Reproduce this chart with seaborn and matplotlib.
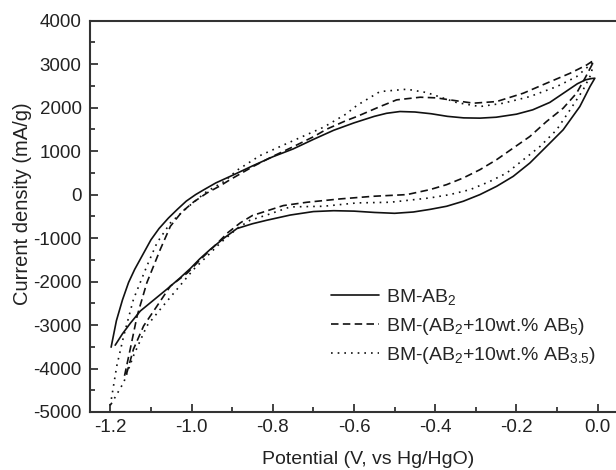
import pandas as pd
import matplotlib
matplotlib.use("Agg")
import matplotlib.pyplot as plt
import seaborn as sns

# BM-AB2 (solid): anodic sweep then cathodic sweep back
ab2_x = [-1.198, -1.185, -1.17, -1.155, -1.14, -1.12, -1.10, -1.08, -1.057, -1.035, -1.013,
         -0.99, -0.97, -0.94, -0.90, -0.85, -0.80, -0.75, -0.70, -0.65, -0.60, -0.55, -0.52,
         -0.487, -0.45, -0.41, -0.37, -0.33, -0.29, -0.25, -0.20, -0.16, -0.118, -0.08, -0.05,
         -0.03, -0.015, -0.007,
         -0.019, -0.044, -0.085, -0.126, -0.167, -0.208, -0.249, -0.29, -0.331, -0.372, -0.413,
         -0.454, -0.50, -0.55, -0.60, -0.65, -0.70, -0.757, -0.815, -0.85, -0.888, -0.92,
         -0.954, -0.98, -1.003, -1.03, -1.06, -1.09, -1.126, -1.15, -1.17, -1.188]
ab2_y = [-3509, -2900, -2420, -2020, -1720, -1380, -1040, -780, -540, -340, -150,
         0, 110, 270, 440, 660, 870, 1050, 1270, 1480, 1650, 1800, 1870,
         1911, 1900, 1860, 1800, 1765, 1759, 1780, 1850, 1950, 2120, 2360, 2550,
         2640, 2670, 2677,
         2484, 2025, 1491, 1108, 727, 420, 190, 0, -153, -268, -340,
         -400, -430, -410, -380, -370, -390, -470, -590, -670, -780, -1000,
         -1261, -1480, -1700, -1930, -2170, -2400, -2676, -2950, -3200, -3463]

# BM-(AB2+10wt.% AB5) (dashed)
ab5_x = [-1.165, -1.151, -1.134, -1.11, -1.077, -1.052, -1.024, -0.995, -0.962, -0.93, -0.905,
         -0.848, -0.80, -0.75, -0.70, -0.667, -0.62, -0.593, -0.536, -0.495, -0.437, -0.397,
         -0.364, -0.306, -0.249, -0.183, -0.126, -0.068, -0.027, -0.015, -0.01,
         -0.03, -0.052, -0.085, -0.126, -0.167, -0.208, -0.249, -0.29, -0.331, -0.372, -0.413,
         -0.47, -0.552, -0.634, -0.716, -0.774, -0.823, -0.85, -0.88, -0.91, -0.94, -0.978,
         -1.01, -1.052, -1.085, -1.118, -1.143, -1.159, -1.165]
ab5_y = [-4167, -3555, -2791, -2026, -1261, -727, -400, -170, 38, 200, 344,
         649, 880, 1100, 1330, 1506, 1700, 1796, 2025, 2179, 2240, 2225,
         2179, 2103, 2140, 2333, 2562, 2791, 2982, 3057, 3060,
         2700, 2333, 1988, 1681, 1337, 1071, 803, 573, 383, 229, 115,
         0, -38, -99, -176, -252, -400, -480, -650, -870, -1150, -1491,
         -1800, -2103, -2562, -3020, -3555, -4090, -4167]

# BM-(AB2+10wt.% AB3.5) (dotted)
ab35_x = [-1.2, -1.184, -1.167, -1.143, -1.11, -1.085, -1.052, -1.011, -0.962, -0.92, -0.888,
          -0.831, -0.757, -0.675, -0.62, -0.593, -0.536, -0.47, -0.421, -0.347, -0.29, -0.232,
          -0.167, -0.101, -0.052, -0.019, -0.012,
          -0.015, -0.036, -0.068, -0.101, -0.142, -0.183, -0.224, -0.265, -0.314, -0.364, -0.413,
          -0.511, -0.593, -0.675, -0.757, -0.815, -0.856, -0.888, -0.93, -0.96, -0.995, -1.036,
          -1.077, -1.11, -1.143, -1.167, -1.2]
ab35_y = [-4850, -3938, -3250, -2408, -1644, -1108, -650, -300, 76, 300, 560,
          900, 1210, 1550, 1850, 2050, 2370, 2424, 2347, 2117, 2025, 2103,
          2255, 2484, 2713, 2982, 3096,
          2791, 2408, 1950, 1491, 1108, 803, 497, 305, 115, 0, -76,
          -176, -191, -268, -283, -470, -590, -780, -1120, -1400, -1720, -2179,
          -2638, -3020, -3708, -4319, -4850]

labels = [r"BM-AB$\mathregular{_2}$",
          r"BM-(AB$\mathregular{_2}$+10wt.% AB$\mathregular{_5}$)",
          r"BM-(AB$\mathregular{_2}$+10wt.% AB$\mathregular{_{3.5}}$)"]


def main():
    sns.set_style("ticks")
    plt.rcParams["font.family"] = ["Liberation Sans", "DejaVu Sans"]
    plt.rcParams["mathtext.fontset"] = "custom"
    plt.rcParams["mathtext.rm"] = "Liberation Sans"
    plt.rcParams["font.size"] = 13

    fig = plt.figure(figsize=(6.16, 4.70), dpi=100)
    ax = fig.add_axes([90 / 616, 58 / 470, 528 / 616, 391.3 / 470])

    curves = [(ab2_x, ab2_y, "-", None),
              (ab5_x, ab5_y, "--", (4.5, 2.6)),
              (ab35_x, ab35_y, ":", (1, 3))]
    for (xs, ys, ls, dash), lab in zip(curves, labels):
        df = pd.DataFrame({"x": xs, "y": ys})
        sns.lineplot(data=df, x="x", y="y", sort=False, estimator=None, ax=ax,
                     color="#111111", linewidth=1.2, label=lab)
        l = ax.get_lines()[-1]
        l.set_linestyle(ls)
        if dash is not None:
            l.set_dashes(dash)

    ax.set_xlim(-1.25, 0.05)
    ax.set_ylim(-5000, 4000)
    ax.set_xticks([-1.2, -1.0, -0.8, -0.6, -0.4, -0.2, 0.0])
    ax.set_xticklabels(["-1.2", "-1.0", "-0.8", "-0.6", "-0.4", "-0.2", "0.0"])
    ax.set_xticks([-1.1, -0.9, -0.7, -0.5, -0.3, -0.1], minor=True)
    ax.set_yticks(range(-5000, 4001, 1000))
    ax.set_yticklabels([str(v) for v in range(-5000, 4001, 1000)])
    ax.set_yticks(range(-4500, 4000, 1000), minor=True)
    ax.tick_params(which="both", direction="in", width=1.2, colors="#222222",
                   labelsize=13.5, labelcolor="#222222")
    ax.tick_params(which="major", length=6)
    ax.tick_params(which="minor", length=3.5)
    ax.tick_params(axis="x", pad=5)
    ax.tick_params(axis="y", pad=6)
    for s in ax.spines.values():
        s.set_linewidth(1.5)
        s.set_color("#333333")

    ax.set_xlabel("Potential (V, vs Hg/HgO)", fontsize=14, color="#222222")
    ax.set_ylabel("Current density (mA/g)", fontsize=14.5, color="#222222")
    ax.xaxis.set_label_coords(0.527, -0.1)
    ax.yaxis.set_label_coords(-0.11, 0.533)

    ax.legend(loc="upper left", bbox_to_anchor=(0.456, 0.32), frameon=False,
              fontsize=14, handlelength=2.5, handletextpad=0.35, borderpad=0,
              labelspacing=0.45, borderaxespad=0)

    fig.savefig("out.png", dpi=100)


if __name__ == "__main__":
    main()
